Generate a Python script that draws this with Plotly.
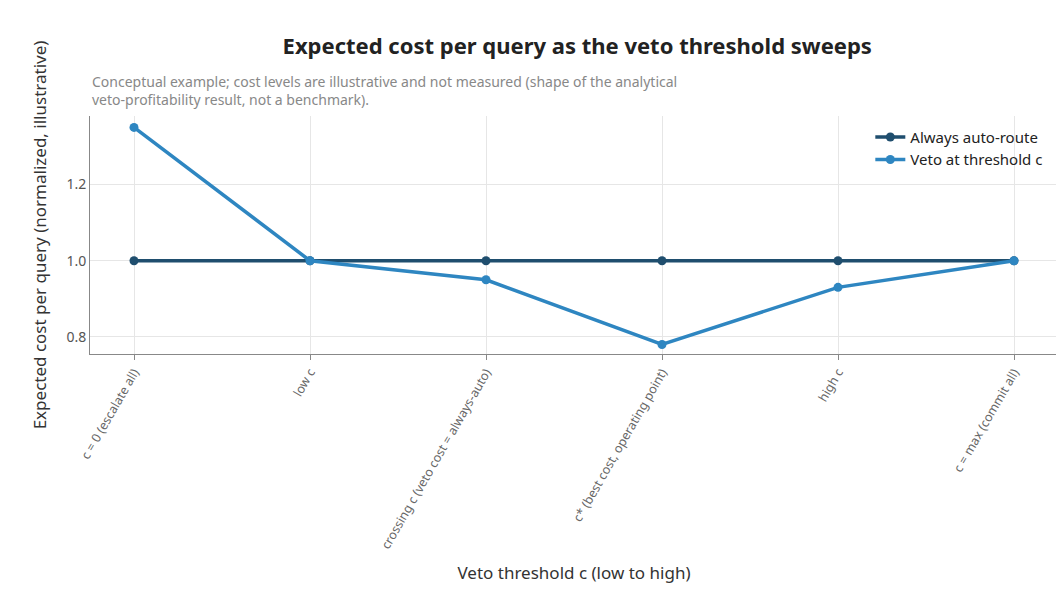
import plotly.graph_objects as go

categories = ["c = 0 (escalate all)", "low c", "crossing c (veto cost = always-auto)",
              "c* (best cost, operating point)", "high c", "c = max (commit all)"]
always_auto = [1.0, 1.0, 1.0, 1.0, 1.0, 1.0]
veto = [1.35, 1.0, 0.95, 0.78, 0.93, 1.0]

fig = go.Figure()
fig.add_trace(go.Scatter(x=categories, y=always_auto, mode="lines+markers", name="Always auto-route",
                         line=dict(color="#1f4e6e", width=3.5), marker=dict(size=9, color="#1f4e6e")))
fig.add_trace(go.Scatter(x=categories, y=veto, mode="lines+markers", name="Veto at threshold c",
                         line=dict(color="#2e86c1", width=3.5), marker=dict(size=9, color="#2e86c1")))

fig.update_layout(
    width=1064, height=615, paper_bgcolor="white", plot_bgcolor="white",
    font=dict(family="Noto Sans", color="#444"),
    margin=dict(l=82, r=14, t=108, b=269),
    title=dict(text="<b>Expected cost per query as the veto threshold sweeps</b>", x=0.535, y=0.95,
               xanchor="center", font=dict(size=22, color="#222")),
    legend=dict(x=0.99, y=0.98, xanchor="right", yanchor="top", bgcolor="rgba(255,255,255,0)",
                font=dict(size=15, color="#222")),
    annotations=[dict(text="Conceptual example; cost levels are illustrative and not measured (shape of the analytical<br>veto-profitability result, not a benchmark).",
                      xref="paper", yref="paper", x=0, y=1.02, xanchor="left", yanchor="bottom",
                      align="left", showarrow=False, font=dict(size=14, color="#888"))],
)
fig.update_xaxes(title=dict(text="Veto threshold c (low to high)", font=dict(size=17, color="#333")),
                 tickangle=-60, tickfont=dict(size=12.5, color="#666"), range=[-0.25, 5.25],
                 showgrid=True, gridcolor="#e6e6e6", showline=True, linecolor="#888",
                 ticks="outside", tickcolor="#888")
fig.update_yaxes(title=dict(text="Expected cost per query (normalized, illustrative)", font=dict(size=17, color="#333")),
                 range=[0.755, 1.38], tickvals=[0.8, 1.0, 1.2], ticktext=["0.8", "1.0", "1.2"],
                 tickfont=dict(size=14, color="#555"), showgrid=True, gridcolor="#e6e6e6",
                 showline=True, linecolor="#888", zeroline=False)
fig.write_html("out.html")
